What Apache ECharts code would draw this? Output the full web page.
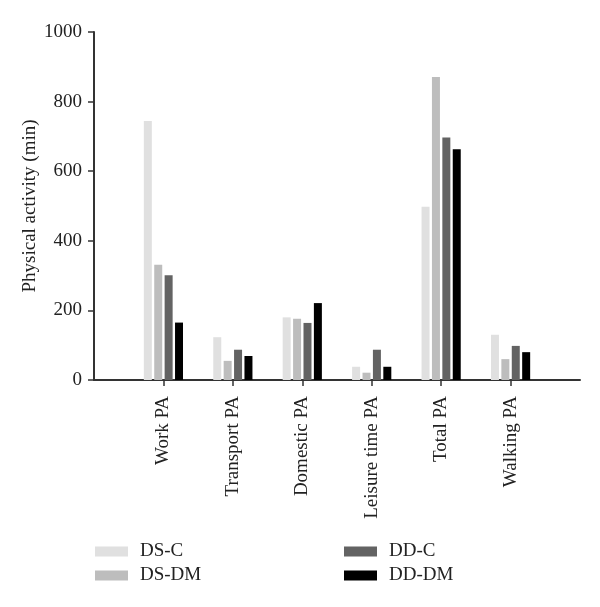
<!DOCTYPE html>
<html>
<head>
<meta charset="utf-8">
<script src="https://cdn.jsdelivr.net/npm/echarts@6/dist/echarts.min.js"></script>
<style>html,body{margin:0;padding:0;background:#fff}#c{width:600px;height:607px}</style>
</head>
<body>
<div id="c"></div>
<script>
const categories = ['', 'Work PA', 'Transport PA', 'Domestic PA', 'Leisure time PA', 'Total PA', 'Walking PA', ''];
const seriesNames = ['DS-C', 'DS-DM', 'DD-C', 'DD-DM'];
const dsC  = [null, 744, 123, 180, 38, 498, 130, null];
const dsDM = [null, 331, 55, 176, 21, 871, 60, null];
const ddC  = [null, 301, 87, 164, 87, 697, 98, null];
const ddDM = [null, 165, 69, 221, 38, 663, 80, null];
const yTicks = [0, 200, 400, 600, 800, 1000];

const colors = ['#e0e0e0', '#bdbdbd', '#636363', '#000000'];
const FONT = 'Liberation Serif';
const chart = echarts.init(document.getElementById('c'), null, {renderer: 'canvas'});
const values = [dsC, dsDM, ddC, ddDM];
const legendText = {fontFamily: FONT, fontSize: 19, color: '#222', padding: [0, 0, 0, 7]};
chart.setOption({
  animation: false,
  color: colors,
  grid: {left: 94, top: 32, right: 20, bottom: 227},
  legend: [
    {left: 95, top: 542, padding: 0, orient: 'vertical', itemWidth: 33, itemHeight: 10, itemGap: 5,
     data: ['DS-C', 'DS-DM'], icon: 'rect', textStyle: legendText},
    {left: 344, top: 542, padding: 0, orient: 'vertical', itemWidth: 33, itemHeight: 10, itemGap: 5,
     data: ['DD-C', 'DD-DM'], icon: 'rect', textStyle: legendText}
  ],
  xAxis: {
    type: 'category',
    data: categories,
    boundaryGap: false,
    axisLine: {lineStyle: {color: '#333', width: 2}},
    axisTick: {length: 6, lineStyle: {color: '#333', width: 1.5},
      interval: (i) => i > 0 && i < categories.length - 1},
    axisLabel: {rotate: 90, fontFamily: FONT, fontSize: 19, color: '#222', margin: 16,
      interval: 0},
    splitLine: {show: false}
  },
  yAxis: {
    type: 'value',
    min: yTicks[0], max: yTicks[yTicks.length - 1], interval: 200,
    name: 'Physical activity (min)',
    nameLocation: 'middle',
    nameGap: 54,
    nameMoveOverlap: false,
    nameTextStyle: {fontFamily: FONT, fontSize: 19, color: '#222'},
    axisLine: {show: true, lineStyle: {color: '#333', width: 2}},
    axisTick: {show: true, length: 6, lineStyle: {color: '#333', width: 1.5}},
    axisLabel: {fontFamily: FONT, fontSize: 19, color: '#222', margin: 12,
      formatter: (v) => String(v)},
    splitLine: {show: false}
  },
  series: seriesNames.map((n, k) => ({
    name: n, type: 'bar', data: values[k], barWidth: 8, barGap: '30%',
    itemStyle: {color: colors[k]}
  }))
});
</script>
</body>
</html>
